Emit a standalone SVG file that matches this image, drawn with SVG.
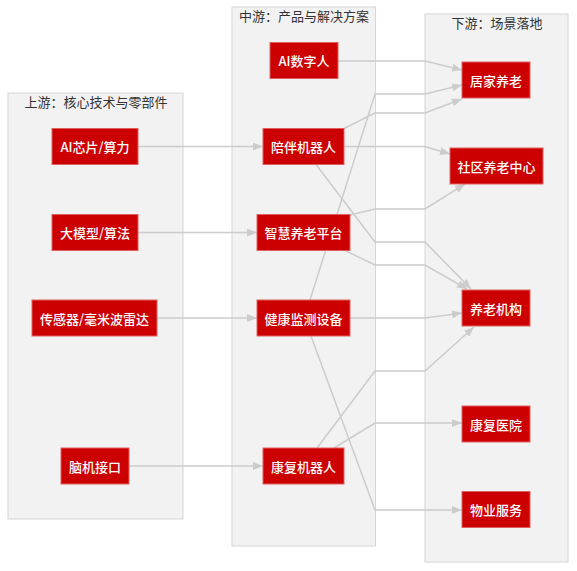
<svg xmlns="http://www.w3.org/2000/svg" width="577" height="571" viewBox="0 0 577 571">
<style>
.cluster{fill:#f2f2f2;stroke:#d6d6d6;stroke-width:1}
.clabel{font-family:"Noto Sans CJK SC","Noto Sans",sans-serif;font-size:13px;fill:#333;text-anchor:middle}
.node rect{fill:#cc0000;stroke:#e06060;stroke-width:1}
.node text{font-family:"Noto Sans CJK SC","Noto Sans",sans-serif;font-size:13px;font-weight:500;fill:#fff;text-anchor:middle;dominant-baseline:central}
.edge{fill:none;stroke:#cccccc;stroke-width:1.5;marker-end:url(#arr)}
</style>
<defs>
<marker id="arr" markerUnits="userSpaceOnUse" markerWidth="11" markerHeight="8" refX="10" refY="4" orient="auto">
<path d="M0,0 L10,4 L0,8 z" fill="#cccccc"/>
</marker>
</defs>
<g id="clusters">
<g id="cluster_up"><rect class="cluster" x="8" y="93" width="175" height="426"/><text class="clabel" x="96" y="107">上游：核心技术与零部件</text></g>
<g id="cluster_mid"><rect class="cluster" x="232" y="7" width="143.5" height="539"/><text class="clabel" x="304" y="21">中游：产品与解决方案</text></g>
<g id="cluster_down"><rect class="cluster" x="425" y="14" width="143" height="548"/><text class="clabel" x="497" y="28">下游：场景落地</text></g>
</g>
<g id="edges">
<polyline class="edge" points="138,146.5 263,146.5"/>
<polyline class="edge" points="138,232.5 257,232.5"/>
<polyline class="edge" points="157,318 257,318"/>
<polyline class="edge" points="129,466 263,466"/>
<polyline class="edge" points="338,61 425,61 462,70"/>
<polyline class="edge" points="310,300 375,94 425,94 462,85"/>
<polyline class="edge" points="344,128.5 375,113 425,113 462,99"/>
<polyline class="edge" points="344,146.5 425,146.5 450,154"/>
<polyline class="edge" points="350,215 375,209 425,209 465,184"/>
<polyline class="edge" points="316,164.5 375,242 425,242 471,289"/>
<polyline class="edge" points="345,250.5 375,265 425,265 467,289"/>
<polyline class="edge" points="350,318 425,318 462,313"/>
<polyline class="edge" points="317,448 375,371 425,371 474,327"/>
<polyline class="edge" points="334,448 375,423 425,423 462,423"/>
<polyline class="edge" points="311,336 375,510 425,510 462,510"/>
</g>
<g id="n_chip" class="node"><rect x="52" y="128.5" width="86" height="36"/><text x="95" y="146.5">AI芯片/算力</text></g>
<g id="n_model" class="node"><rect x="52" y="214.5" width="86" height="36"/><text x="95" y="232.5">大模型/算法</text></g>
<g id="n_sensor" class="node"><rect x="32" y="300" width="125" height="36"/><text x="94.5" y="318">传感器/毫米波雷达</text></g>
<g id="n_bci" class="node"><rect x="61" y="448" width="68" height="36"/><text x="95" y="466">脑机接口</text></g>
<g id="n_digital" class="node"><rect x="270" y="42.5" width="68" height="36"/><text x="304" y="60.5">AI数字人</text></g>
<g id="n_companion" class="node"><rect x="263" y="128.5" width="81" height="36"/><text x="303.5" y="146.5">陪伴机器人</text></g>
<g id="n_platform" class="node"><rect x="257" y="214.5" width="93" height="36"/><text x="303.5" y="232.5">智慧养老平台</text></g>
<g id="n_health" class="node"><rect x="257" y="300" width="93" height="36"/><text x="303.5" y="318">健康监测设备</text></g>
<g id="n_rehab" class="node"><rect x="263" y="448" width="81" height="36"/><text x="303.5" y="466">康复机器人</text></g>
<g id="n_home" class="node"><rect x="462" y="62" width="68" height="36"/><text x="496" y="80">居家养老</text></g>
<g id="n_community" class="node"><rect x="450" y="148" width="93" height="36"/><text x="496.5" y="166">社区养老中心</text></g>
<g id="n_institution" class="node"><rect x="462" y="290" width="68" height="36"/><text x="496" y="308">养老机构</text></g>
<g id="n_hospital" class="node"><rect x="462" y="406" width="68" height="36"/><text x="496" y="424">康复医院</text></g>
<g id="n_property" class="node"><rect x="462" y="491.5" width="68" height="36"/><text x="496" y="509.5">物业服务</text></g>
</svg>
